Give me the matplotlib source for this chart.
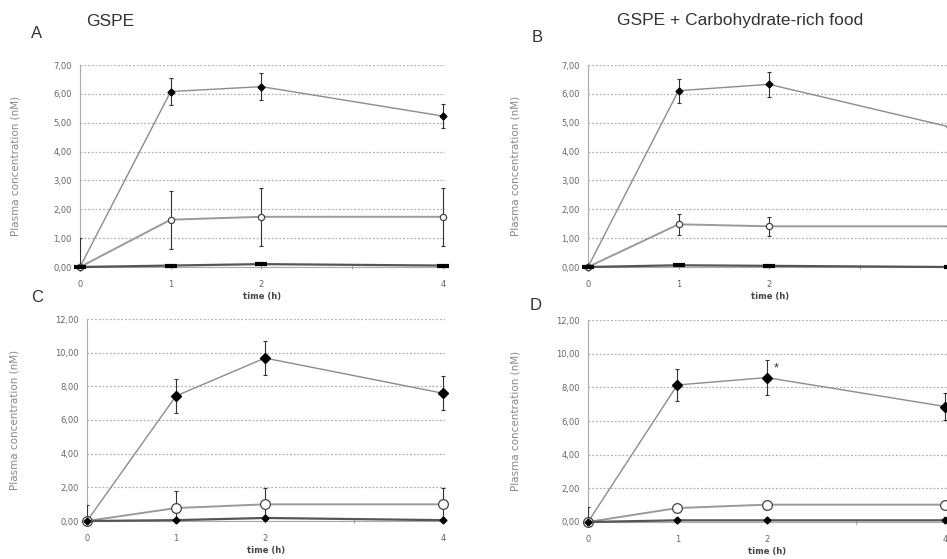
import matplotlib.pyplot as plt

plt.rcParams['font.family'] = ['Liberation Sans', 'DejaVu Sans']

# tiempos de muestreo (h)
time_h = [0, 1, 2, 4]
xtick_pos = [0, 1, 2, 3, 4]
xtick_labels = ['0', '1', '2', '', '4']

# Panel A: GSPE
a_top = [0.0, 6.08, 6.25, 5.23]
a_top_err = [0.0, 0.47, 0.48, 0.42]
a_mid = [0.0, 1.64, 1.74, 1.74]
a_mid_err = [1.0, 1.0, 1.0, 1.0]
a_low = [0.0, 0.05, 0.10, 0.05]
a_low_err = [0.0, 0.0, 0.0, 0.0]

# Panel B: GSPE + alimento rico en carbohidratos
b_top = [0.0, 6.11, 6.33, 4.85]
b_top_err = [0.0, 0.42, 0.43, 0.40]
b_mid = [0.0, 1.48, 1.41, 1.41]
b_mid_err = [0.0, 0.37, 0.33, 0.30]
b_low = [0.0, 0.06, 0.04, 0.0]
b_low_err = [0.0, 0.0, 0.0, 0.0]

# Panel C
c_top = [0.0, 7.43, 9.68, 7.59]
c_top_err = [0.0, 1.03, 1.0, 1.0]
c_mid = [0.0, 0.77, 0.99, 0.99]
c_mid_err = [0.95, 1.0, 0.95, 0.95]
c_low = [0.0, 0.05, 0.18, 0.05]
c_low_err = [0.0, 0.0, 0.0, 0.0]

# Panel D
d_top = [0.0, 8.14, 8.58, 6.86]
d_top_err = [0.0, 0.96, 1.04, 0.80]
d_mid = [0.0, 0.83, 1.03, 1.03]
d_mid_err = [0.9, 0.2, 0.2, 0.2]
d_low = [0.0, 0.10, 0.10, 0.10]
d_low_err = [0.0, 0.0, 0.0, 0.0]

yticks_small = [0, 1, 2, 3, 4, 5, 6, 7]
yticks_large = [0, 2, 4, 6, 8, 10, 12]

W, H = 947, 559
fig = plt.figure(figsize=(W / 100, H / 100), dpi=100)


def px_axes(left, top, right, bottom):
    return fig.add_axes([left / W, 1 - bottom / H, (right - left) / W, (bottom - top) / H])


def px_text(x, y, s, **kw):
    fig.text(x / W, 1 - y / H, s, ha='center', va='center', **kw)


def panel(ax, yticks, series, big, ylab_x):
    line_c = '#8c8c8c'
    for i, (vals, errs) in enumerate(series):
        ax.errorbar(time_h, vals, yerr=errs, fmt='none', ecolor='#333333',
                    elinewidth=0.8, capsize=1.6, capthick=0.8, zorder=3)
        if i == 0:
            mk = dict(marker='D', ms=5 if big else 3.5, mfc='black', mec='black')
            lw, lc = 1.0, line_c
        elif i == 1:
            mk = dict(marker='o', ms=7 if big else 4.5, mfc='white', mec='#444444', mew=0.9)
            lw, lc = 1.4, '#9a9a9a'
        else:
            if big:
                mk = dict(marker='D', ms=3.5, mfc='black', mec='black')
            else:
                mk = dict(marker='_', ms=9, mec='black', mew=3)
            lw, lc = 1.6, '#555555'
        ax.plot(time_h, vals, color=lc, lw=lw, zorder=4, clip_on=False, **mk)

    ax.set_xlim(0, 4.02)
    ax.set_ylim(0, yticks[-1])
    ax.set_xticks(xtick_pos)
    ax.set_xticklabels(xtick_labels, family='DejaVu Sans')
    ax.set_yticks(yticks)
    ax.set_yticklabels([f'{v:.2f}'.replace('.', ',') for v in yticks], family='DejaVu Sans')
    ax.yaxis.grid(True, linestyle=(0, (1.5, 1.5)), color='#b0b0b0', lw=0.9)
    ax.set_axisbelow(True)
    for s in ['top', 'right']:
        ax.spines[s].set_visible(False)
    ax.spines['left'].set_color('#aaaaaa')
    ax.spines['left'].set_linewidth(0.8)
    ax.spines['bottom'].set_color('#aaaaaa')
    ax.spines['bottom'].set_linewidth(0.8)
    ax.tick_params(axis='y', length=0, pad=6, labelsize=6, labelcolor='#666666')
    ax.tick_params(axis='x', length=3, direction='inout', color='#999999', pad=8,
                   labelsize=6, labelcolor='#666666')
    ax.set_xlabel('time (h)', fontsize=6, fontweight='bold', color='#444444', labelpad=2,
                  family='DejaVu Sans')
    ax.set_ylabel('Plasma concentration (nM)', fontsize=7.5, color='#888888',
                  family='DejaVu Sans')
    ax.yaxis.set_label_coords(ylab_x, 0.5)


axA = px_axes(80, 65, 80 + 90.7 * 4.02, 267)
panel(axA, yticks_small, [(a_top, a_top_err), (a_mid, a_mid_err), (a_low, a_low_err)], False,
      (20 - 80) / (90.7 * 4.02))

axB = px_axes(588, 65, 588 + 90.5 * 4.02, 267)
panel(axB, yticks_small, [(b_top, b_top_err), (b_mid, b_mid_err), (b_low, b_low_err)], False,
      (520 - 588) / (90.5 * 4.02))

axC = px_axes(87, 319, 87 + 89 * 4.02, 521)
panel(axC, yticks_large, [(c_top, c_top_err), (c_mid, c_mid_err), (c_low, c_low_err)], True,
      (20 - 87) / (89 * 4.02))

axD = px_axes(588, 320, 588 + 89.3 * 4.02, 522)
panel(axD, yticks_large, [(d_top, d_top_err), (d_mid, d_mid_err), (d_low, d_low_err)], True,
      (520 - 588) / (89.3 * 4.02))

# asterisco de significancia
axD.annotate('*', xy=(time_h[2], d_top[2] + d_top_err[2]), xytext=(7, -6),
             textcoords='offset points', fontsize=9, ha='center', va='center', color='#333333')

px_text(110, 21, 'GSPE', fontsize=12.5, color='#333333')
px_text(740, 20, 'GSPE + Carbohydrate-rich food', fontsize=12.5, color='#333333')
px_text(37, 34, 'A', fontsize=12, color='#333333')
px_text(537, 37, 'B', fontsize=12, color='#333333')
px_text(37, 297, 'C', fontsize=12, color='#333333')
px_text(536, 305, 'D', fontsize=12, color='#333333')

fig.savefig('out.png', dpi=100)
